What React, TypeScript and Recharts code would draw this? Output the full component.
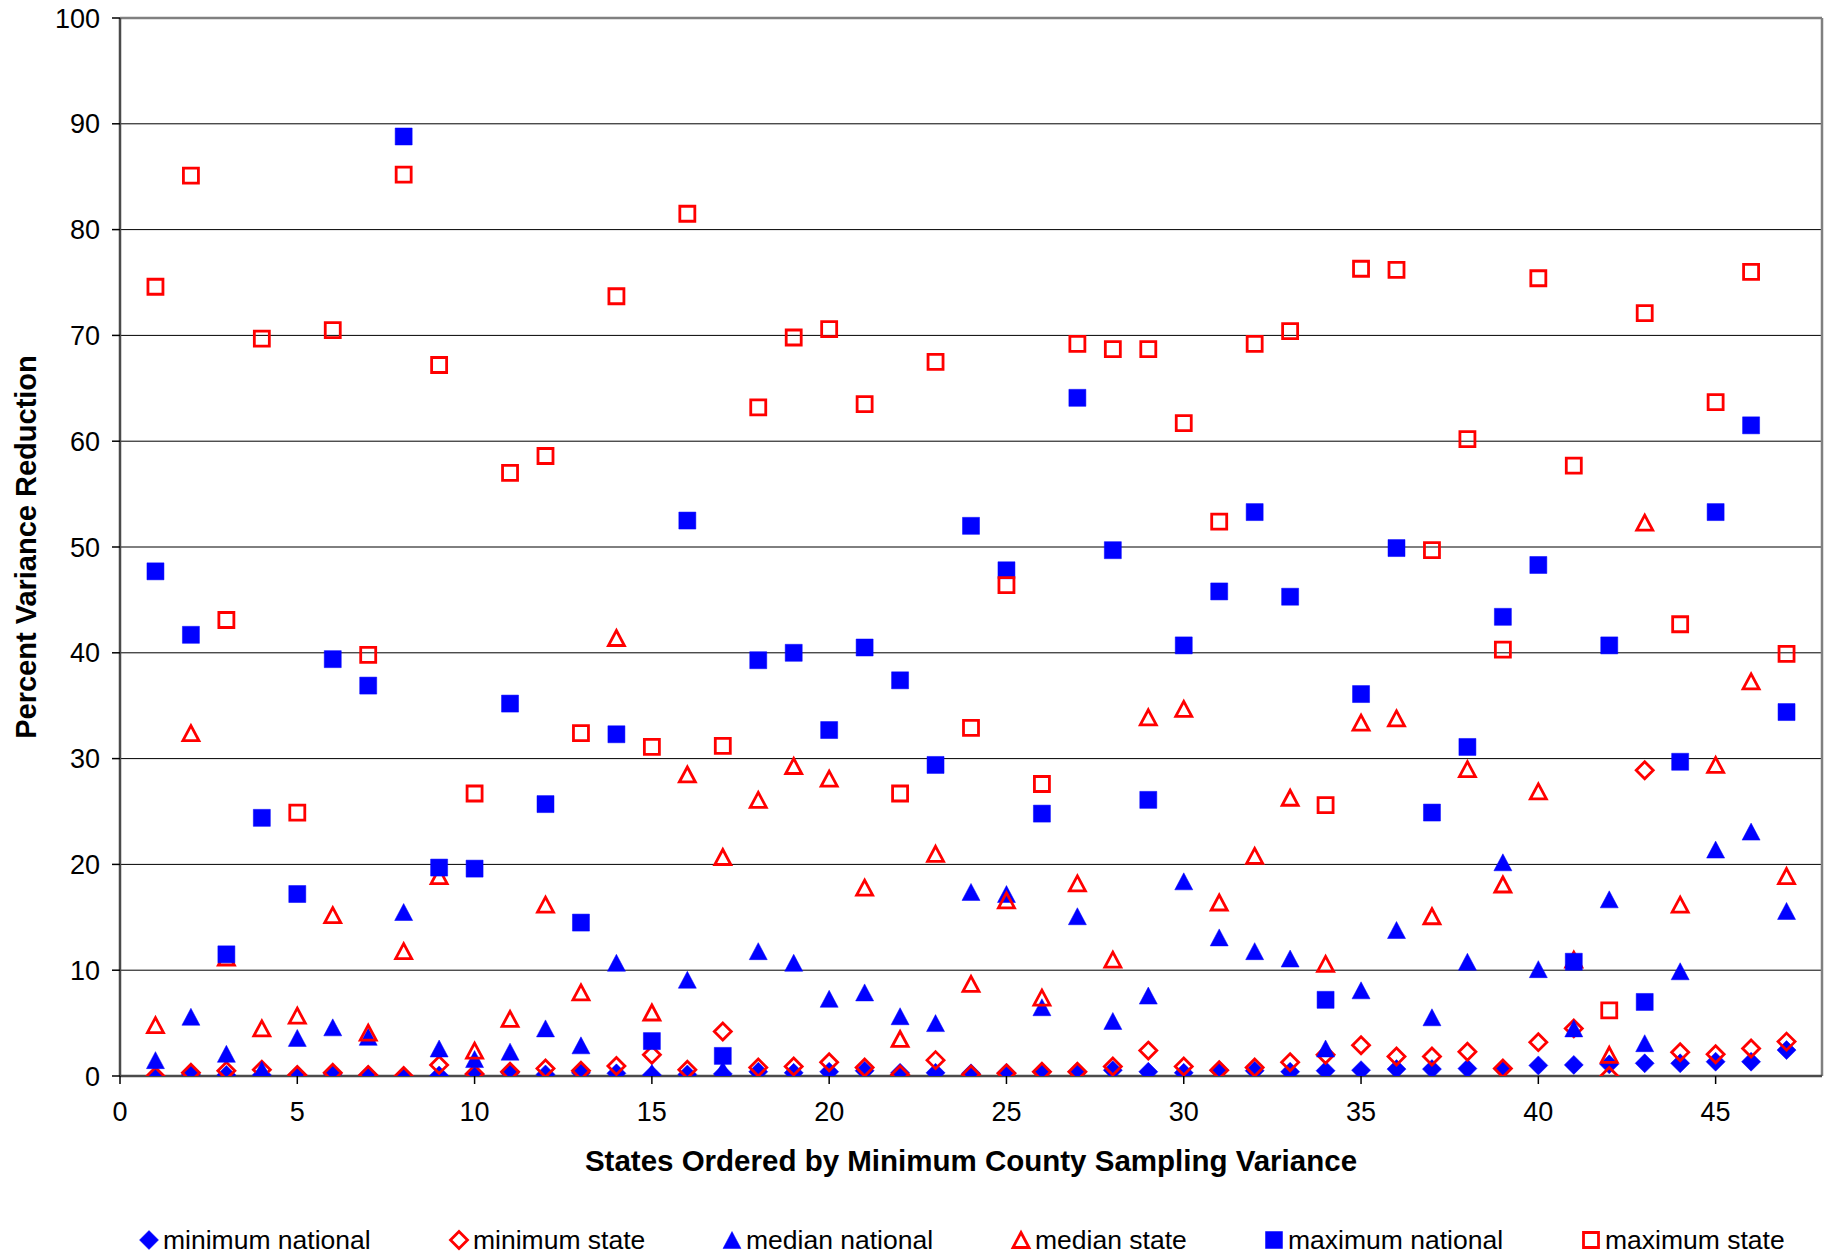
import React from 'react';
import { ScatterChart, Scatter, XAxis, YAxis, CartesianGrid, Label, ReferenceLine } from 'recharts';

const states = [1, 2, 3, 4, 5, 6, 7, 8, 9, 10, 11, 12, 13, 14, 15, 16, 17, 18, 19, 20, 21, 22, 23, 24, 25, 26, 27, 28, 29, 30, 31, 32, 33, 34, 35, 36, 37, 38, 39, 40, 41, 42, 43, 44, 45, 46, 47];

const minimumNational = [0.0, 0.15, 0.1, 0.1, 0.1, 0.2, 0.1, 0.0, 0.05, 0.15, 0.3, 0.15, 0.3, 0.25, 0.1, 0.15, 0.2, 0.4, 0.3, 0.4, 0.5, 0.3, 0.3, 0.25, 0.3, 0.4, 0.4, 0.55, 0.4, 0.3, 0.55, 0.5, 0.4, 0.5, 0.55, 0.65, 0.65, 0.7, 0.7, 1.0, 1.05, 1.1, 1.2, 1.2, 1.35, 1.35, 2.45];

const minimumState = [0.0, 0.3, 0.5, 0.6, 0.1, 0.3, 0.1, 0.0, 1.05, 0.2, 0.4, 0.7, 0.5, 0.95, 2.0, 0.6, 4.2, 0.8, 0.9, 1.3, 0.8, 0.15, 1.5, 0.15, 0.25, 0.4, 0.4, 0.9, 2.4, 0.9, 0.55, 0.8, 1.3, 2.0, 2.9, 1.85, 1.85, 2.3, 0.7, 3.2, 4.5, 0.0, 28.9, 2.25, 2.05, 2.6, 3.25];

const medianNational = [1.5, 5.6, 2.1, 0.6, 3.6, 4.6, 3.7, 15.5, 2.6, 1.6, 2.3, 4.5, 2.9, 10.7, 0.3, 9.1, 0.6, 11.8, 10.7, 7.3, 7.9, 5.65, 5.0, 17.4, 17.2, 6.5, 15.1, 5.2, 7.6, 18.4, 13.1, 11.8, 11.1, 2.6, 8.1, 13.8, 5.55, 10.8, 20.2, 10.1, 4.5, 16.7, 3.1, 9.9, 21.4, 23.1, 15.6];

const medianState = [4.8, 32.4, 11.2, 4.5, 5.7, 15.2, 4.1, 11.8, 18.9, 2.4, 5.4, 16.2, 7.9, 41.4, 6.0, 28.5, 20.7, 26.1, 29.3, 28.1, 17.8, 3.5, 21.0, 8.7, 16.6, 7.4, 18.2, 11.0, 33.9, 34.7, 16.4, 20.8, 26.3, 10.6, 33.4, 33.8, 15.1, 29.0, 18.1, 26.9, 11.0, 2.0, 52.3, 16.2, 29.4, 37.3, 18.9];

const maximumNational = [47.7, 41.7, 11.5, 24.4, 17.2, 39.4, 36.9, 88.8, 19.7, 19.6, 35.2, 25.7, 14.5, 32.3, 3.3, 52.5, 1.9, 39.3, 40.0, 32.7, 40.5, 37.4, 29.4, 52.0, 47.8, 24.8, 64.1, 49.7, 26.1, 40.7, 45.8, 53.3, 45.3, 7.2, 36.1, 49.9, 24.9, 31.1, 43.4, 48.3, 10.8, 40.7, 7.0, 29.7, 53.3, 61.5, 34.4];

const maximumState = [74.6, 85.1, 43.1, 69.7, 24.9, 70.5, 39.8, 85.2, 67.2, 26.7, 57.0, 58.6, 32.4, 73.7, 31.1, 81.5, 31.2, 63.2, 69.8, 70.6, 63.5, 26.7, 67.5, 32.9, 46.4, 27.6, 69.2, 68.7, 68.7, 61.7, 52.4, 69.2, 70.4, 25.6, 76.3, 76.2, 49.7, 60.2, 40.3, 75.4, 57.7, 6.2, 72.1, 42.7, 63.7, 76.0, 39.9];

const xTicks = [0, 5, 10, 15, 20, 25, 30, 35, 40, 45];
const yTicks = [0, 10, 20, 30, 40, 50, 60, 70, 80, 90, 100];

const seriesNames = ['minimum national', 'minimum state', 'median national', 'median state', 'maximum national', 'maximum state'];

const BLUE = '#0000FF';
const RED = '#FF0000';
const FONT = '"Liberation Sans", Arial, sans-serif';

type ShapeKind = 'diamond' | 'triangle' | 'square';

function markerPath(kind: ShapeKind, cx: number, cy: number, filled: boolean) {
  if (kind === 'diamond') {
    const h = filled ? 9.5 : 8.5;
    return `M${cx},${cy - h}L${cx + h},${cy}L${cx},${cy + h}L${cx - h},${cy}Z`;
  }
  if (kind === 'triangle') {
    const w = filled ? 9 : 8;
    const hh = filled ? 8.5 : 7.5;
    return `M${cx},${cy - hh}L${cx + w},${cy + hh}L${cx - w},${cy + hh}Z`;
  }
  const s = filled ? 8.5 : 7.5;
  return `M${cx - s},${cy - s}L${cx + s},${cy - s}L${cx + s},${cy + s}L${cx - s},${cy + s}Z`;
}

function Marker({ kind, filled, cx, cy }: { kind: ShapeKind; filled: boolean; cx: number; cy: number }) {
  const d = markerPath(kind, cx, cy, filled);
  if (filled) return <path d={d} fill={BLUE} stroke={BLUE} strokeWidth={0.5} />;
  return <path d={d} fill="none" stroke={RED} strokeWidth={2.8} strokeLinejoin="miter" />;
}

const makeShape = (kind: ShapeKind, filled: boolean) => (props: any) => {
  const { cx, cy } = props;
  if (cx == null || cy == null) return <g />;
  return <Marker kind={kind} filled={filled} cx={cx} cy={cy} />;
};

const toPoints = (vals: number[]) => states.map((s, i) => ({ x: s, y: vals[i] }));

const series = [
  { name: seriesNames[0], data: toPoints(minimumNational), kind: 'diamond' as ShapeKind, filled: true },
  { name: seriesNames[1], data: toPoints(minimumState), kind: 'diamond' as ShapeKind, filled: false },
  { name: seriesNames[2], data: toPoints(medianNational), kind: 'triangle' as ShapeKind, filled: true },
  { name: seriesNames[3], data: toPoints(medianState), kind: 'triangle' as ShapeKind, filled: false },
  { name: seriesNames[4], data: toPoints(maximumNational), kind: 'square' as ShapeKind, filled: true },
  { name: seriesNames[5], data: toPoints(maximumState), kind: 'square' as ShapeKind, filled: false },
];

const legendLefts = [148, 458, 731, 1020, 1273, 1590];

const XTitle = (props: any) => {
  const vb = props.viewBox || {};
  const cx = vb.x + vb.width / 2;
  return (
    <text x={cx} y={1160} textAnchor="middle" dominantBaseline="central" fontFamily={FONT} fontWeight="bold" fontSize={29.5} fill="#000">
      States Ordered by Minimum County Sampling Variance
    </text>
  );
};

const YTitle = (props: any) => {
  const vb = props.viewBox || {};
  const cy = vb.y + vb.height / 2;
  return (
    <text x={26} y={cy} transform={`rotate(-90, 26, ${cy})`} textAnchor="middle" dominantBaseline="central" fontFamily={FONT} fontWeight="bold" fontSize={29} fill="#000">
      Percent Variance Reduction
    </text>
  );
};

export default function App() {
  return (
    <div style={{ position: 'absolute', left: 0, top: 0, width: 1826, height: 1256, background: '#fff', fontFamily: FONT }}>
      <ScatterChart width={1826} height={1256} margin={{ top: 18, right: 4, bottom: 80, left: 0 }}>
        <CartesianGrid vertical={false} horizontal={true} stroke="#000" strokeWidth={1} horizontalValues={yTicks} />
        <XAxis
          type="number"
          dataKey="x"
          domain={[0, 48]}
          ticks={xTicks}
          interval={0}
          allowDataOverflow
          height={100}
          axisLine={{ stroke: '#4a4a4a', strokeWidth: 2.5 }}
          tickLine={{ stroke: '#000', strokeWidth: 1.5 }}
          tickSize={8}
          tickMargin={18}
          tick={{ fontFamily: FONT, fontSize: 27, fill: '#000' }}
        >
          <Label content={XTitle} />
        </XAxis>
        <YAxis
          type="number"
          dataKey="y"
          domain={[0, 100]}
          ticks={yTicks}
          interval={0}
          allowDataOverflow
          width={120}
          axisLine={{ stroke: '#4a4a4a', strokeWidth: 2.5 }}
          tickLine={{ stroke: '#000', strokeWidth: 1.5 }}
          tickSize={8}
          tickMargin={12}
          tick={{ fontFamily: FONT, fontSize: 27, fill: '#000' }}
        >
          <Label content={YTitle} />
        </YAxis>
        <ReferenceLine y={100} stroke="#808080" strokeWidth={2.5} />
        <ReferenceLine x={48} stroke="#808080" strokeWidth={2.5} />
        {series.map((s) => (
          <Scatter key={s.name} name={s.name} data={s.data} shape={makeShape(s.kind, s.filled)} isAnimationActive={false} />
        ))}
      </ScatterChart>
      {series.map((s, i) => (
        <div key={s.name} style={{ position: 'absolute', left: legendLefts[i] - 10, top: 1224, height: 32, display: 'flex', alignItems: 'center', whiteSpace: 'nowrap' }}>
          <svg width={22} height={22} style={{ marginRight: 3 }}>
            <Marker kind={s.kind} filled={s.filled} cx={11} cy={11} />
          </svg>
          <span style={{ fontFamily: FONT, fontSize: 26.5, color: '#000' }}>{s.name}</span>
        </div>
      ))}
    </div>
  );
}
